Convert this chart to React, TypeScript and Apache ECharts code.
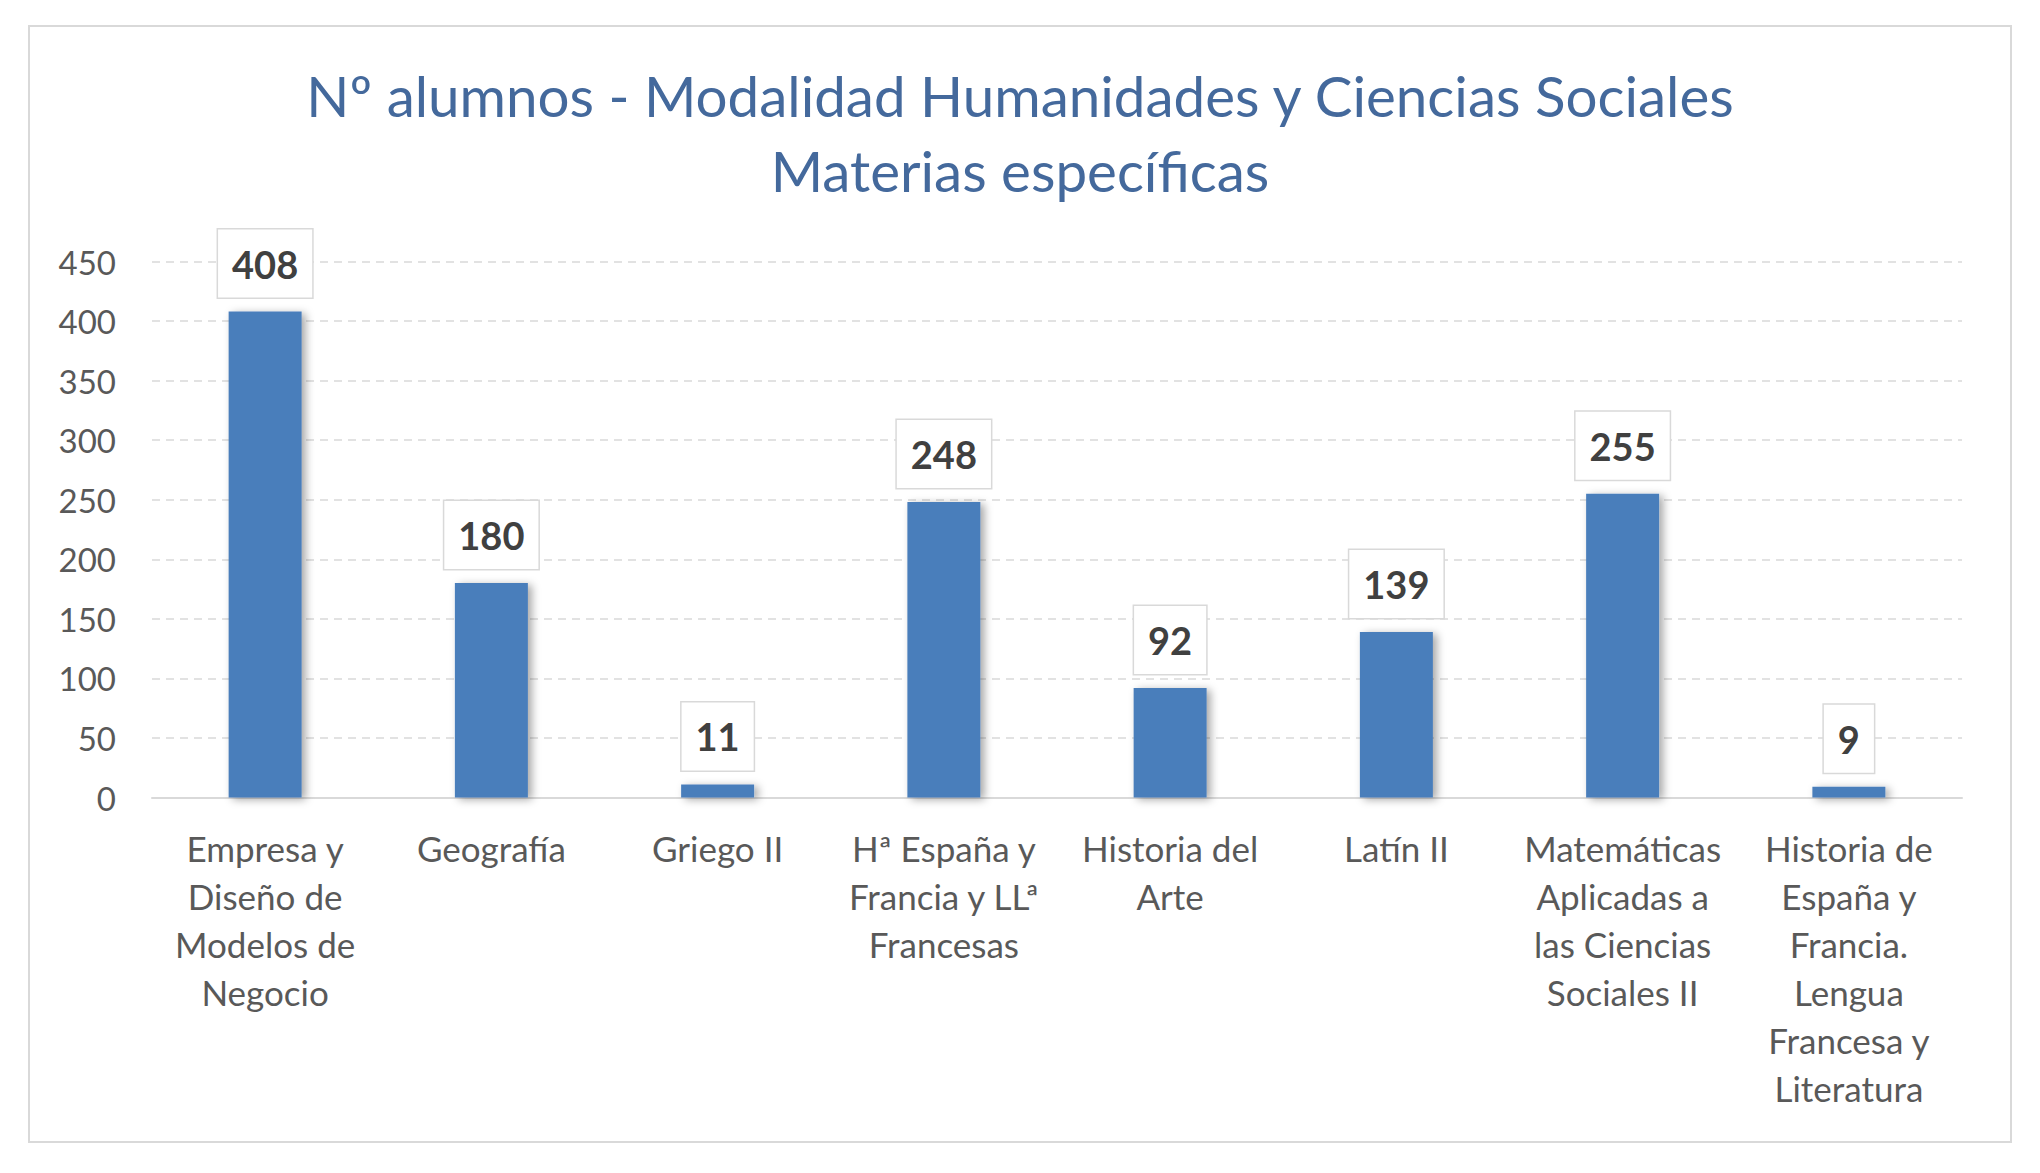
import React, { useEffect, useRef } from "react";
import * as echarts from "echarts";

const titleLines = [
  "Nº alumnos - Modalidad Humanidades y Ciencias Sociales",
  "Materias específicas",
];

const categories = [
  "Empresa y\nDiseño de\nModelos de\nNegocio",
  "Geografía",
  "Griego II",
  "Hª España y\nFrancia y LLª\nFrancesas",
  "Historia del\nArte",
  "Latín II",
  "Matemáticas\nAplicadas a\nlas Ciencias\nSociales II",
  "Historia de\nEspaña y\nFrancia.\nLengua\nFrancesa y\nLiteratura",
];

const values = [408, 180, 11, 248, 92, 139, 255, 9];

const yMin = 0;
const yMax = 450;
const yInterval = 50;

const FONT = "Lato, 'Open Sans', sans-serif";

export default function App() {
  const ref = useRef<HTMLDivElement>(null);

  useEffect(() => {
    document.body.style.margin = "0";
    const chart = echarts.init(ref.current!, undefined, { renderer: "svg" });
    chart.setOption({
      animation: false,
      backgroundColor: "#ffffff",
      graphic: [
        {
          type: "rect",
          shape: { x: 29, y: 26, width: 1982, height: 1116 },
          style: { fill: "none", stroke: "#d9d9d9", lineWidth: 2 },
          silent: true,
        },
      ],
      title: {
        text: titleLines.join("\n"),
        left: "center",
        top: 52,
        textStyle: {
          color: "#44699c",
          fontFamily: FONT,
          fontSize: 56.5,
          fontWeight: "normal",
          lineHeight: 75,
        },
      },
      grid: { left: 152, right: 78, top: 261.5, bottom: 375.5 },
      xAxis: {
        type: "category",
        data: categories,
        axisLine: { lineStyle: { color: "#d9d9d9", width: 2 } },
        axisTick: { show: false },
        axisLabel: {
          interval: 0,
          margin: 26,
          color: "#595959",
          fontFamily: FONT,
          fontSize: 35,
          lineHeight: 48,
        },
      },
      yAxis: {
        type: "value",
        min: yMin,
        max: yMax,
        interval: yInterval,
        axisLine: { show: false },
        axisTick: { show: false },
        axisLabel: {
          color: "#595959",
          fontFamily: FONT,
          fontSize: 33,
          margin: 36,
        },
        splitLine: {
          lineStyle: { color: "#d9d9d9", width: 1.5, type: [8, 6] },
        },
      },
      series: [
        {
          type: "bar",
          data: values,
          barWidth: 73,
          itemStyle: {
            color: "#4a7ebb",
            shadowColor: "rgba(0,0,0,0.35)",
            shadowBlur: 8,
            shadowOffsetX: 4,
            shadowOffsetY: 2,
          },
          label: {
            show: true,
            position: "top",
            distance: 14,
            color: "#404040",
            fontFamily: FONT,
            fontWeight: "bold",
            fontSize: 38,
            lineHeight: 38,
            backgroundColor: "#ffffff",
            borderColor: "#d9d9d9",
            borderWidth: 1.5,
            padding: [15, 14, 15, 14],
          },
        },
      ],
    });
    return () => chart.dispose();
  }, []);

  return <div ref={ref} style={{ width: 2040, height: 1173 }} />;
}
